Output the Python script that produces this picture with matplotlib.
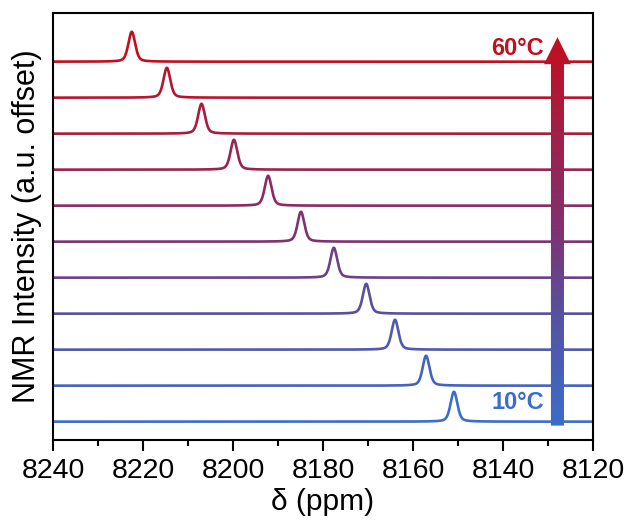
import numpy as np
import matplotlib
matplotlib.use("Agg")
import matplotlib.pyplot as plt
from matplotlib.colors import LinearSegmentedColormap
from matplotlib.patches import Polygon

plt.rcParams['font.family'] = ['Liberation Sans', 'DejaVu Sans']

# Temperature series and measured peak positions (ppm)
temperatures = [10, 15, 20, 25, 30, 35, 40, 45, 50, 55, 60]
peak_ppm = [8150.9, 8157.1, 8164.0, 8170.4, 8177.6, 8184.9,
            8192.2, 8199.8, 8207.0, 8214.7, 8222.5]
peak_height = [0.83] * 11
peak_fwhm = [1.8] * 11
x_ticks = [8240, 8220, 8200, 8180, 8160, 8140, 8120]

cmap = LinearSegmentedColormap.from_list(
    "temp", [(0.0, "#3b6dca"), (0.3, "#58509e"), (0.5, "#7e3272"),
             (1.0, "#c20f1e")])

fig = plt.figure(figsize=(6.26, 5.23), dpi=100)
ax = fig.add_axes([0.0847, 0.1587, 0.8626, 0.8163])

ppm = np.linspace(8240, 8120, 4000)
n = len(temperatures)
for i, (t, c, h, w) in enumerate(zip(temperatures, peak_ppm, peak_height, peak_fwhm)):
    hw = w / 2.0
    shape = h * (0.4 * hw**2 / ((ppm - c)**2 + hw**2)
                 + 0.6 * np.exp(-np.log(2) * ((ppm - c) / hw)**2))
    ax.plot(ppm, i + shape, color=cmap(i / (n - 1)), lw=1.9)

ax.set_xlim(8240, 8120)
ax.set_ylim(-0.51, 11.35)
ax.set_xticks(x_ticks)
ax.set_xticks(np.arange(8230, 8120, -20), minor=True)
ax.set_yticks([])
ax.tick_params(axis='x', which='major', direction='out', length=8, width=1.5,
               labelsize=20.5, pad=5)
ax.tick_params(axis='x', which='minor', direction='out', length=4.5, width=1.5)
for s in ax.spines.values():
    s.set_linewidth(1.5)

ax.set_xlabel("δ (ppm)", fontsize=21.5, labelpad=3)
ax.set_ylabel("NMR Intensity (a.u. offset)", fontsize=22, labelpad=8)

# Temperature gradient arrow
xc, shaft, head_w = 8127.9, 2.9, 6.0
y0, y_head, y_tip = -0.11, 9.93, 10.68
verts = [(xc + shaft / 2, y0), (xc + shaft / 2, y_head), (xc + head_w / 2, y_head),
         (xc, y_tip), (xc - head_w / 2, y_head), (xc - shaft / 2, y_head),
         (xc - shaft / 2, y0)]
arrow = Polygon(verts, closed=True, facecolor='none', edgecolor='none')
ax.add_patch(arrow)
grad = np.linspace(0, 1, 256).reshape(-1, 1)
im = ax.imshow(grad, cmap=cmap, origin='lower', aspect='auto',
               extent=(xc + head_w / 2, xc - head_w / 2, y0, y_tip), zorder=3)
im.set_clip_path(arrow)

ax.text(8130.9, 10.37, "60°C", color=cmap(1.0), fontsize=17, fontweight='bold',
        ha='right', va='center')
ax.text(8130.9, 0.52, "10°C", color=cmap(0.0), fontsize=17, fontweight='bold',
        ha='right', va='center')

ax.set_xlim(8240, 8120)
ax.set_ylim(-0.51, 11.35)
fig.savefig("out.png", dpi=100)
